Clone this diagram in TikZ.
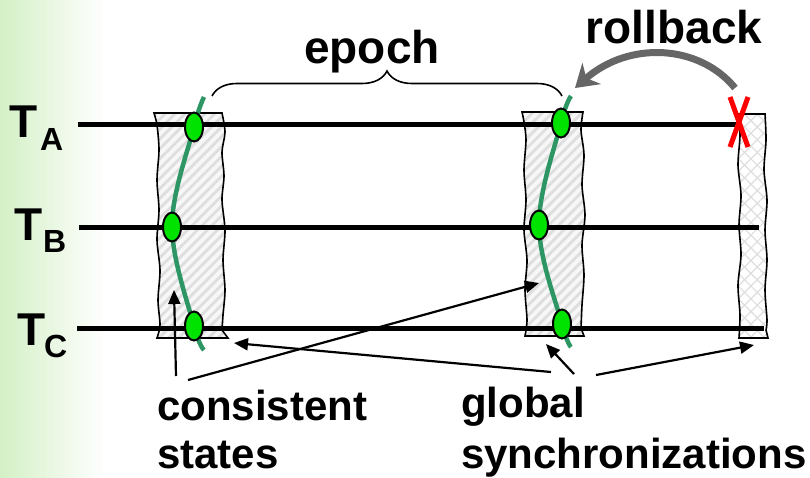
\documentclass[tikz,border=0pt]{standalone}
\usepackage{fontspec}
\setmainfont{Liberation Sans}
\usetikzlibrary{arrows.meta,patterns.meta,decorations.pathreplacing,shapes.geometric}
\definecolor{bggreen}{RGB}{212,240,198}
\definecolor{curvegreen}{RGB}{46,150,100}
\definecolor{dotgreen}{RGB}{0,226,0}
\definecolor{hatchgray}{RGB}{222,222,222}
\definecolor{rollgray}{RGB}{102,102,102}
\tikzset{
  timeline/.style={line width=5pt},
  bandline/.style={line width=1.6pt},
  hatchband/.style={pattern={Lines[angle=45,distance=7pt,line width=2.8pt]},pattern color=hatchgray},
  crossA/.style={pattern={Lines[angle=45,distance=9pt,line width=1.2pt]},pattern color=hatchgray},
  crossB/.style={pattern={Lines[angle=-45,distance=9pt,line width=1.2pt]},pattern color=hatchgray},
  cut/.style={line width=4.5pt,curvegreen},
  state/.style={ellipse,draw=black,line width=2pt,fill=dotgreen,minimum width=18pt,minimum height=29pt,inner sep=0pt},
  pointer/.style={line width=2.2pt,-{Triangle[length=14pt,width=12pt]}},
  big/.style={font=\fontsize{46}{50}\selectfont\bfseries},
  lab/.style={font=\fontsize{42}{50}\selectfont\bfseries},
  sub/.style={font=\fontsize{32}{34}\selectfont\bfseries},
}
\begin{document}
\begin{tikzpicture}[x=1pt,y=1pt]
\useasboundingbox (0,0) rectangle (810,-477);
\shade[left color=bggreen,right color=white] (0,0) rectangle (105,-477);

% bands
\def\bandL{(154,-113) -- (222,-113) -- plot[smooth] coordinates {(222,-113) (225,-132) (222,-152) (224,-176) (222,-200) (225,-230) (223,-260) (225,-290) (223,-315) (222,-330)} -- (228,-338) -- (157,-338) -- plot[smooth] coordinates {(157,-338) (160,-325) (158,-300) (160,-270) (157,-240) (159,-210) (157,-180) (159,-150) (157,-125) (154,-113)} -- cycle}
\def\bandM{(522,-112) -- (583,-112) -- plot[smooth] coordinates {(583,-112) (581,-130) (584,-155) (582,-185) (585,-215) (582,-245) (584,-275) (582,-305) (581,-328)} -- (584,-336) -- (525,-336) -- plot[smooth] coordinates {(525,-336) (527,-320) (525,-290) (527,-260) (524,-230) (526,-200) (524,-170) (526,-140) (524,-122) (522,-112)} -- cycle}
\def\bandR{(738,-114) -- (765,-114) -- plot[smooth] coordinates {(765,-114) (766,-140) (764,-170) (767,-200) (765,-230) (767,-260) (765,-290) (767,-320) (766,-330)} -- (768,-338) -- (739,-338) -- plot[smooth] coordinates {(739,-338) (740,-315) (738,-285) (741,-255) (739,-225) (741,-195) (738,-165) (740,-135) (738,-114)} -- cycle}
\path[fill=white!97!black] \bandL;
\path[hatchband] \bandL;
\draw[bandline] \bandL;
\path[fill=white!97!black] \bandM;
\path[hatchband] \bandM;
\draw[bandline] \bandM;
\path[fill=white] \bandR;
\path[crossA] \bandR;
\path[crossB] \bandR;
\draw[bandline] \bandR;

% time lines
\coordinate (a0) at (78,-124);  \coordinate (a1) at (737,-124);
\coordinate (b0) at (79,-227);  \coordinate (b1) at (759,-227);
\coordinate (c0) at (77,-328);  \coordinate (c1) at (764,-328);
\draw[timeline] (a0) -- (a1);
\draw[timeline] (b0) -- (b1);
\draw[timeline] (c0) -- (c1);

% labels
\node[big,anchor=base west,inner sep=0pt] (TA) at (9,-137) {T};
\node[sub,anchor=base west,inner sep=0pt] (TAs) at (40,-150) {A};
\node[big,anchor=base west,inner sep=0pt] (TB) at (14,-240) {T};
\node[sub,anchor=base west,inner sep=0pt] (TBs) at (43,-252) {B};
\node[big,anchor=base west,inner sep=0pt] (TC) at (17,-345) {T};
\node[sub,anchor=base west,inner sep=0pt] (TCs) at (44,-357) {C};

% consistent-state cuts
\draw[cut] plot[smooth,tension=0.6] coordinates {(204,-97) (194,-127) (172,-226) (194,-326) (204,-350)};
\draw[cut] plot[smooth,tension=0.6] coordinates {(571,-96) (561,-123) (539,-225) (562,-324) (571,-347)};
\node[state] (s1) at (194,-127) {};
\node[state] (s2) at (172,-227) {};
\node[state] (s3) at (194,-326) {};
\node[state] (m1) at (561,-123) {};
\node[state] (m2) at (539,-225) {};
\node[state] (m3) at (562,-324) {};

% red cross
\draw[red,line width=5pt] (730,-97) -- (748,-147);
\draw[red,line width=5pt] (748,-97) -- (730,-147);

% epoch brace
\coordinate (br0) at (212,-96);
\coordinate (br1) at (562,-96);
\draw[line width=1.6pt,decorate,decoration={brace,amplitude=25pt,aspect=0.5}] (br0) -- (br1);
\node[big,anchor=base] (epoch) at (372,-63) {epoch};

% rollback
\node[big,anchor=base] (rollback) at (674,-43) {rollback};
\coordinate (r0) at (735,-88);
\coordinate (r1) at (575,-88);
\draw[rollgray,line width=7pt,-{Stealth[length=22pt,width=28pt,inset=7pt]}] (r0) .. controls (700,-45) and (630,-40) .. (r1);

% bottom labels
\node[lab,anchor=base west,inner sep=0pt] (cons) at (157,-420) {consistent};
\node[lab,anchor=base west,inner sep=0pt] (stat) at (157,-468) {states};
\node[lab,anchor=base west,inner sep=0pt] (glob) at (461,-417) {global};
\node[lab,anchor=base west,inner sep=0pt] (sync) at (461,-468) {synchronizations};

\coordinate (p1s) at (176,-376); \coordinate (p1t) at (174,-290);
\coordinate (p2s) at (188,-380); \coordinate (p2t) at (539,-283);
\coordinate (p3s) at (551,-372); \coordinate (p3t) at (234,-343);
\coordinate (p4s) at (574,-374); \coordinate (p4t) at (546,-344);
\coordinate (p5s) at (596,-375); \coordinate (p5t) at (754,-345);
\draw[pointer] (p1s) -- (p1t);
\draw[pointer] (p2s) -- (p2t);
\draw[pointer] (p3s) -- (p3t);
\draw[pointer] (p4s) -- (p4t);
\draw[pointer] (p5s) -- (p5t);
\end{tikzpicture}
\end{document}
